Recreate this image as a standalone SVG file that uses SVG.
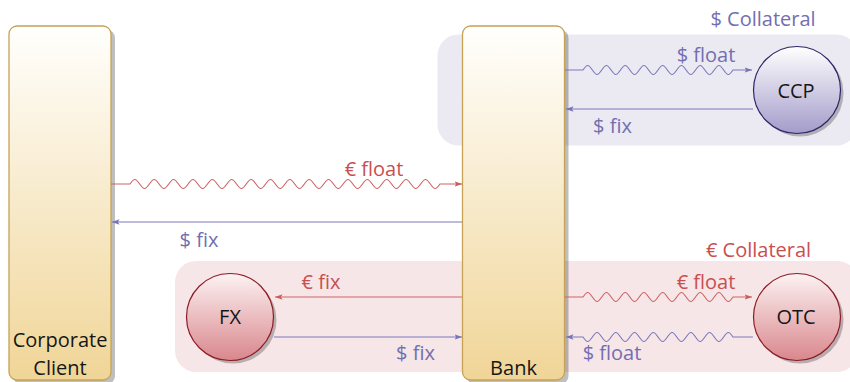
<svg xmlns="http://www.w3.org/2000/svg" width="850" height="382" viewBox="0 0 850 382">
  <defs>
    <linearGradient id="boxGrad" x1="0" y1="0" x2="0" y2="1">
      <stop offset="0" stop-color="#fffffd"/>
      <stop offset="1" stop-color="#f0d597"/>
    </linearGradient>
    <linearGradient id="ccpGrad" x1="0" y1="0" x2="0" y2="1">
      <stop offset="0" stop-color="#ffffff"/>
      <stop offset="1" stop-color="#a39cca"/>
    </linearGradient>
    <linearGradient id="redGrad" x1="0" y1="0" x2="0" y2="1">
      <stop offset="0" stop-color="#fcf2f2"/>
      <stop offset="1" stop-color="#d9878d"/>
    </linearGradient>
    <marker id="arrRed" markerUnits="userSpaceOnUse" markerWidth="8" markerHeight="6" viewBox="0 0 8 6" refX="7.5" refY="3" orient="auto">
      <path d="M0,0.2 L7.5,3 L0,5.8 L1.6,3 z" fill="#cc5c5c"/>
    </marker>
    <marker id="arrBlue" markerUnits="userSpaceOnUse" markerWidth="8" markerHeight="6" viewBox="0 0 8 6" refX="7.5" refY="3" orient="auto">
      <path d="M0,0.2 L7.5,3 L0,5.8 L1.6,3 z" fill="#7773b6"/>
    </marker>
  </defs>
  <style>
    .box { fill: url(#boxGrad); stroke: #c6a255; stroke-width: 1.3; }
    .shadow { fill: #000; opacity: 0.25; }
    .ccp { fill: url(#ccpGrad); stroke: #2c2566; stroke-width: 1.2; }
    .red { fill: url(#redGrad); stroke: #8c1b24; stroke-width: 1.2; }
    .lr { fill: none; stroke: #cf6464; stroke-width: 1.1; }
    .lb { fill: none; stroke: #7d79bb; stroke-width: 1.1; }
    text { font-family: "Open Sans", "DejaVu Sans", sans-serif; font-size: 20px; text-anchor: middle; }
    .nt { fill: #161616; }
    .tb { fill: #736eb0; }
    .tr { fill: #c94f4f; }
  </style>

  <!-- collateral regions -->
  <g id="usd-collateral">
    <rect x="437.5" y="34.5" width="420" height="111" rx="21" fill="#ebeaf2"/>
    <text class="tb" x="763" y="26">$ Collateral</text>
  </g>
  <g id="eur-collateral">
    <rect x="175" y="261" width="683" height="111" rx="21" fill="#f6e6e8"/>
    <text class="tr" x="758.5" y="257">€ Collateral</text>
  </g>

  <!-- nodes -->
  <g id="corporate-client">
    <rect class="shadow" x="13" y="30" width="102" height="354" rx="8"/>
    <rect class="box" x="9" y="26" width="102" height="354" rx="8"/>
    <text class="nt" x="60" y="347">Corporate</text>
    <text class="nt" x="60" y="375">Client</text>
  </g>
  <g id="bank">
    <rect class="shadow" x="466.5" y="30" width="102" height="354" rx="8"/>
    <rect class="box" x="462.5" y="26" width="102" height="354" rx="8"/>
    <text class="nt" x="513.5" y="375">Bank</text>
  </g>
  <g id="ccp">
    <circle class="shadow" cx="800" cy="93" r="43.5"/>
    <circle class="ccp" cx="797" cy="90" r="43.5"/>
    <text class="nt" x="796" y="98">CCP</text>
  </g>
  <g id="fx">
    <circle class="shadow" cx="233" cy="320" r="43.5"/>
    <circle class="red" cx="230" cy="317" r="43.5"/>
    <text class="nt" x="230" y="324">FX</text>
  </g>
  <g id="otc">
    <circle class="shadow" cx="800" cy="320" r="43.5"/>
    <circle class="red" cx="797" cy="317" r="43.5"/>
    <text class="nt" x="796" y="324">OTC</text>
  </g>

  <!-- connectors -->
  <g id="connectors">
    <!-- Corporate -> Bank: EUR float -->
    <path class="lr" marker-end="url(#arrRed)" d="M111,184 H130 c4.107,-6 5.58,-6 9.6875,0 s5.58,6 9.6875,0 s5.58,-6 9.6875,0 s5.58,6 9.6875,0 s5.58,-6 9.6875,0 s5.58,6 9.6875,0 s5.58,-6 9.6875,0 s5.58,6 9.6875,0 s5.58,-6 9.6875,0 s5.58,6 9.6875,0 s5.58,-6 9.6875,0 s5.58,6 9.6875,0 s5.58,-6 9.6875,0 s5.58,6 9.6875,0 s5.58,-6 9.6875,0 s5.58,6 9.6875,0 s5.58,-6 9.6875,0 s5.58,6 9.6875,0 s5.58,-6 9.6875,0 s5.58,6 9.6875,0 s5.58,-6 9.6875,0 s5.58,6 9.6875,0 s5.58,-6 9.6875,0 s5.58,6 9.6875,0 s5.58,-6 9.6875,0 s5.58,6 9.6875,0 s5.58,-6 9.6875,0 s5.58,6 9.6875,0 s5.58,-6 9.6875,0 s5.58,6 9.6875,0 s5.58,-6 9.6875,0 s5.58,6 9.6875,0 H462"/>
    <!-- Bank -> Corporate: USD fix -->
    <path class="lb" marker-end="url(#arrBlue)" d="M462,222 H112"/>
    <!-- Bank -> CCP: USD float -->
    <path class="lb" marker-end="url(#arrBlue)" d="M565,70 H583 c3.975,-6 5.4,-6 9.375,0 s5.4,6 9.375,0 s5.4,-6 9.375,0 s5.4,6 9.375,0 s5.4,-6 9.375,0 s5.4,6 9.375,0 s5.4,-6 9.375,0 s5.4,6 9.375,0 s5.4,-6 9.375,0 s5.4,6 9.375,0 s5.4,-6 9.375,0 s5.4,6 9.375,0 s5.4,-6 9.375,0 s5.4,6 9.375,0 s5.4,-6 9.375,0 s5.4,6 9.375,0 H752"/>
    <!-- CCP -> Bank: USD fix -->
    <path class="lb" marker-end="url(#arrBlue)" d="M753,109 H566"/>
    <!-- Bank -> FX: EUR fix -->
    <path class="lr" marker-end="url(#arrRed)" d="M462,297 H275"/>
    <!-- FX -> Bank: USD fix -->
    <path class="lb" marker-end="url(#arrBlue)" d="M274,337 H462"/>
    <!-- Bank -> OTC: EUR float -->
    <path class="lr" marker-end="url(#arrRed)" d="M565,297 H583 c3.975,-6 5.4,-6 9.375,0 s5.4,6 9.375,0 s5.4,-6 9.375,0 s5.4,6 9.375,0 s5.4,-6 9.375,0 s5.4,6 9.375,0 s5.4,-6 9.375,0 s5.4,6 9.375,0 s5.4,-6 9.375,0 s5.4,6 9.375,0 s5.4,-6 9.375,0 s5.4,6 9.375,0 s5.4,-6 9.375,0 s5.4,6 9.375,0 s5.4,-6 9.375,0 s5.4,6 9.375,0 H752"/>
    <!-- OTC -> Bank: USD float -->
    <path class="lb" marker-end="url(#arrBlue)" d="M753,337 H733 c-3.975,-6 -5.4,-6 -9.375,0 s-5.4,6 -9.375,0 s-5.4,-6 -9.375,0 s-5.4,6 -9.375,0 s-5.4,-6 -9.375,0 s-5.4,6 -9.375,0 s-5.4,-6 -9.375,0 s-5.4,6 -9.375,0 s-5.4,-6 -9.375,0 s-5.4,6 -9.375,0 s-5.4,-6 -9.375,0 s-5.4,6 -9.375,0 s-5.4,-6 -9.375,0 s-5.4,6 -9.375,0 s-5.4,-6 -9.375,0 s-5.4,6 -9.375,0 H566"/>

    <text class="tr" x="374" y="176">€ float</text>
    <text class="tb" x="199" y="247">$ fix</text>
    <text class="tb" x="706" y="62">$ float</text>
    <text class="tb" x="612.5" y="133">$ fix</text>
    <text class="tr" x="321" y="289">€ fix</text>
    <text class="tb" x="415.5" y="360">$ fix</text>
    <text class="tr" x="706" y="289">€ float</text>
    <text class="tb" x="612" y="360">$ float</text>
  </g>
</svg>
